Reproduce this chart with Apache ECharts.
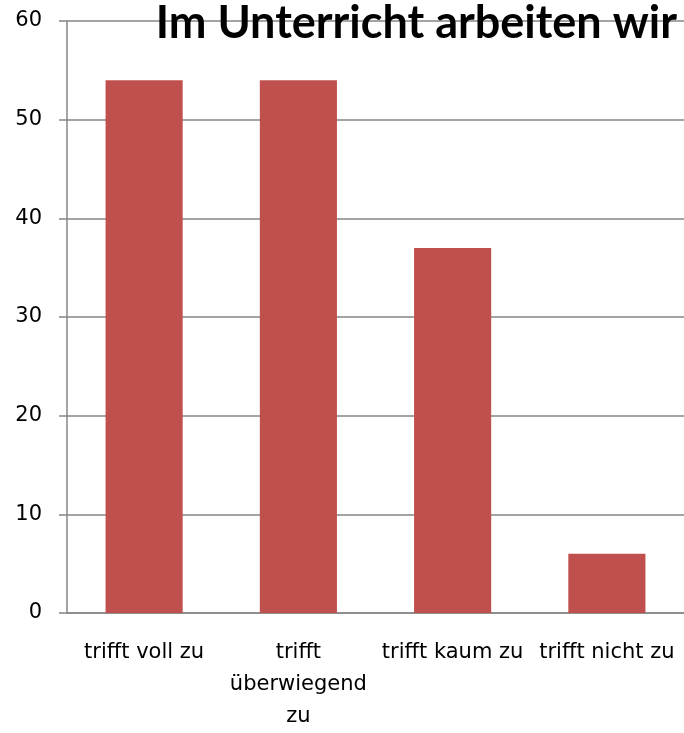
<!DOCTYPE html>
<html>
<head>
<meta charset="utf-8">
<script src="https://cdn.jsdelivr.net/npm/echarts@6/dist/echarts.min.js"></script>
<style>
  html, body { margin: 0; padding: 0; background: #fff; overflow: hidden; }
  #chart { width: 100vw; height: 100vh; }
</style>
</head>
<body>
<div id="chart"></div>
<script>
  // Werte
  const categories = ['trifft voll zu', 'trifft überwiegend zu', 'trifft kaum zu', 'trifft nicht zu'];
  const values = [54, 54, 37, 6];
  const titleText = 'Im Unterricht arbeiten wir';

  const chart = echarts.init(document.getElementById('chart'));
  const font = '"DejaVu Sans", sans-serif';

  chart.setOption({
    animation: false,
    textStyle: { fontFamily: font },
    title: {
      text: titleText,
      right: 2,
      top: -4,
      textStyle: { fontFamily: 'Lato, sans-serif', fontSize: 45, fontWeight: 'bold', color: '#000' }
    },
    grid: { left: 67, right: 0, top: 21, bottom: 117 },
    xAxis: {
      type: 'category',
      data: categories,
      axisLine: { lineStyle: { color: '#868686', width: 1.5 } },
      axisTick: { length: 8, lineStyle: { color: '#868686', width: 1.5 } },
      axisLabel: {
        color: '#000',
        fontSize: 21,
        margin: 24,
        lineHeight: 32,
        interval: 0,
        // Excel bricht die zweite Kategorie dreizeilig um
        formatter: v => v === 'trifft überwiegend zu' ? 'trifft\nüberwiegend\nzu' : v
      }
    },
    yAxis: {
      type: 'value',
      min: 0,
      max: 60,
      interval: 10,
      axisLine: { show: true, lineStyle: { color: '#868686', width: 1.5 } },
      axisTick: { show: true, length: 8, lineStyle: { color: '#868686', width: 1.5 } },
      splitLine: { lineStyle: { color: '#868686', width: 1.5 } },
      axisLabel: { color: '#000', fontSize: 21, margin: 25 }
    },
    series: [{
      type: 'bar',
      data: values,
      barWidth: '50%',
      itemStyle: { color: '#C0504D' }
    }]
  });
</script>
</body>
</html>
